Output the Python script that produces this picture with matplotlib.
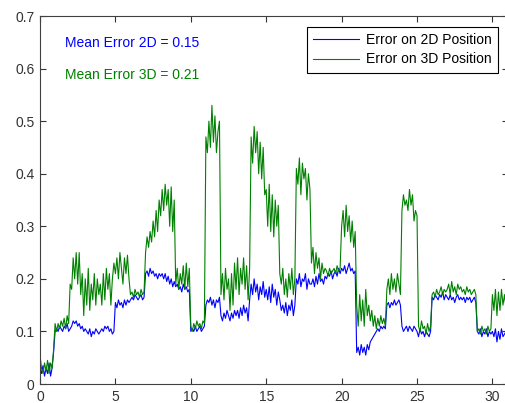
import numpy as np
import matplotlib
matplotlib.use('Agg')
import matplotlib.pyplot as plt

plt.rcParams['font.family'] = ['Liberation Sans', 'DejaVu Sans']

# time axis, one value every 0.1
t = np.arange(310) / 10.0

# error on 2D position (rows = one unit of time)
err2d = [
    0.03, 0.02, 0.035, 0.015, 0.03, 0.02, 0.04, 0.015, 0.03, 0.06,
    0.10, 0.105, 0.10, 0.11, 0.105, 0.10, 0.11, 0.105, 0.115, 0.10,
    0.105, 0.11, 0.12, 0.115, 0.12, 0.11, 0.115, 0.105, 0.11, 0.10,
    0.105, 0.10, 0.095, 0.105, 0.09, 0.10, 0.095, 0.105, 0.10, 0.095,
    0.10, 0.105, 0.10, 0.11, 0.105, 0.11, 0.10, 0.105, 0.095, 0.10,
    0.155, 0.145, 0.16, 0.15, 0.155, 0.145, 0.16, 0.15, 0.16, 0.155,
    0.16, 0.165, 0.16, 0.17, 0.165, 0.16, 0.165, 0.17, 0.16, 0.165,
    0.21, 0.215, 0.205, 0.22, 0.21, 0.215, 0.205, 0.21, 0.20, 0.21,
    0.205, 0.21, 0.20, 0.21, 0.195, 0.205, 0.19, 0.20, 0.185, 0.195,
    0.185, 0.19, 0.18, 0.185, 0.175, 0.19, 0.18, 0.185, 0.175, 0.18,
    0.10, 0.105, 0.10, 0.11, 0.10, 0.105, 0.11, 0.10, 0.105, 0.11,
    0.15, 0.16, 0.155, 0.165, 0.15, 0.16, 0.145, 0.16, 0.155, 0.165,
    0.13, 0.12, 0.135, 0.125, 0.14, 0.13, 0.12, 0.135, 0.125, 0.14,
    0.13, 0.14, 0.125, 0.145, 0.13, 0.15, 0.135, 0.145, 0.12, 0.16,
    0.19, 0.17, 0.20, 0.175, 0.19, 0.16, 0.185, 0.17, 0.195, 0.165,
    0.18, 0.16, 0.185, 0.155, 0.19, 0.165, 0.18, 0.15, 0.175, 0.16,
    0.14, 0.15, 0.135, 0.155, 0.13, 0.15, 0.14, 0.16, 0.13, 0.15,
    0.20, 0.19, 0.21, 0.185, 0.20, 0.195, 0.21, 0.18, 0.20, 0.19,
    0.19, 0.20, 0.185, 0.205, 0.19, 0.21, 0.195, 0.20, 0.19, 0.205,
    0.20, 0.21, 0.205, 0.215, 0.20, 0.21, 0.215, 0.205, 0.22, 0.21,
    0.22, 0.215, 0.225, 0.21, 0.22, 0.23, 0.215, 0.22, 0.21, 0.215,
    0.06, 0.07, 0.055, 0.075, 0.06, 0.07, 0.055, 0.075, 0.065, 0.08,
    0.085, 0.09, 0.095, 0.10, 0.105, 0.10, 0.11, 0.105, 0.11, 0.105,
    0.15, 0.155, 0.145, 0.155, 0.15, 0.16, 0.15, 0.155, 0.16, 0.15,
    0.11, 0.10, 0.105, 0.11, 0.10, 0.11, 0.105, 0.10, 0.11, 0.105,
    0.10, 0.09, 0.105, 0.095, 0.10, 0.09, 0.10, 0.095, 0.09, 0.10,
    0.165, 0.16, 0.17, 0.165, 0.16, 0.17, 0.165, 0.175, 0.16, 0.17,
    0.165, 0.16, 0.17, 0.16, 0.165, 0.155, 0.165, 0.17, 0.16, 0.165,
    0.16, 0.165, 0.155, 0.165, 0.16, 0.165, 0.155, 0.16, 0.165, 0.155,
    0.10, 0.095, 0.105, 0.09, 0.10, 0.095, 0.105, 0.09, 0.10, 0.095,
    0.10, 0.09, 0.105, 0.08, 0.10, 0.085, 0.105, 0.09, 0.095, 0.10,
]

# error on 3D position
err3d = [
    0.055, 0.03, 0.02, 0.04, 0.025, 0.045, 0.02, 0.04, 0.03, 0.065,
    0.115, 0.10, 0.115, 0.105, 0.12, 0.11, 0.125, 0.105, 0.13, 0.115,
    0.19, 0.18, 0.24, 0.20, 0.25, 0.19, 0.25, 0.17, 0.21, 0.13,
    0.20, 0.15, 0.22, 0.14, 0.19, 0.16, 0.21, 0.15, 0.20, 0.17,
    0.19, 0.15, 0.21, 0.16, 0.22, 0.18, 0.21, 0.15, 0.20, 0.23,
    0.21, 0.24, 0.20, 0.25, 0.22, 0.19, 0.24, 0.21, 0.245, 0.20,
    0.17, 0.175, 0.165, 0.18, 0.17, 0.175, 0.165, 0.18, 0.17, 0.175,
    0.25, 0.28, 0.26, 0.29, 0.27, 0.31, 0.28, 0.33, 0.29, 0.35,
    0.32, 0.37, 0.33, 0.38, 0.34, 0.37, 0.30, 0.375, 0.29, 0.35,
    0.19, 0.22, 0.18, 0.21, 0.19, 0.225, 0.18, 0.23, 0.185, 0.22,
    0.11, 0.10, 0.115, 0.105, 0.12, 0.11, 0.115, 0.105, 0.12, 0.115,
    0.47, 0.44, 0.50, 0.45, 0.53, 0.46, 0.51, 0.44, 0.48, 0.50,
    0.17, 0.21, 0.16, 0.22, 0.18, 0.20, 0.14, 0.21, 0.15, 0.23,
    0.18, 0.24, 0.17, 0.22, 0.19, 0.24, 0.18, 0.225, 0.16, 0.22,
    0.47, 0.42, 0.49, 0.44, 0.48, 0.40, 0.46, 0.39, 0.45, 0.36,
    0.37, 0.30, 0.38, 0.29, 0.36, 0.28, 0.35, 0.30, 0.34, 0.21,
    0.19, 0.22, 0.17, 0.20, 0.165, 0.21, 0.18, 0.22, 0.17, 0.20,
    0.41, 0.38, 0.43, 0.36, 0.42, 0.39, 0.41, 0.35, 0.40, 0.37,
    0.23, 0.26, 0.21, 0.25, 0.22, 0.24, 0.20, 0.23, 0.21, 0.22,
    0.215, 0.205, 0.22, 0.21, 0.215, 0.22, 0.21, 0.225, 0.215, 0.22,
    0.30, 0.33, 0.28, 0.34, 0.29, 0.32, 0.27, 0.31, 0.26, 0.29,
    0.15, 0.11, 0.17, 0.12, 0.16, 0.11, 0.18, 0.13, 0.15, 0.12,
    0.14, 0.11, 0.13, 0.105, 0.125, 0.11, 0.13, 0.115, 0.125, 0.11,
    0.18, 0.20, 0.17, 0.21, 0.18, 0.20, 0.175, 0.21, 0.19, 0.17,
    0.33, 0.36, 0.34, 0.35, 0.33, 0.37, 0.34, 0.36, 0.31, 0.33,
    0.32, 0.11, 0.10, 0.12, 0.105, 0.11, 0.095, 0.115, 0.10, 0.11,
    0.17, 0.175, 0.165, 0.18, 0.17, 0.175, 0.185, 0.17, 0.18, 0.175,
    0.18, 0.19, 0.17, 0.195, 0.175, 0.185, 0.17, 0.19, 0.18, 0.185,
    0.175, 0.18, 0.17, 0.185, 0.175, 0.18, 0.17, 0.175, 0.18, 0.17,
    0.10, 0.105, 0.095, 0.11, 0.10, 0.105, 0.095, 0.11, 0.10, 0.105,
    0.17, 0.14, 0.18, 0.13, 0.175, 0.14, 0.18, 0.15, 0.17, 0.145,
]

xticks = [0, 5, 10, 15, 20, 25, 30]
yticks = [0, 0.1, 0.2, 0.3, 0.4, 0.5, 0.6, 0.7]
ylabels = ['0', '0.1', '0.2', '0.3', '0.4', '0.5', '0.6', '0.7']

W, H = 506, 403
fig = plt.figure(figsize=(W / 100, H / 100), dpi=100)
ax = fig.add_axes([40 / W, 19 / H, 467.5 / W, 368 / H])

ax.plot(t, err2d, color='#0000ff', lw=0.8, label='Error on 2D Position')
ax.plot(t, err3d, color='#008000', lw=0.8, label='Error on 3D Position')

ax.set_xlim(0, 31)
ax.set_ylim(0, 0.7)
ax.set_xticks(xticks)
ax.set_yticks(yticks)
ax.set_yticklabels(ylabels)
ax.tick_params(direction='in', length=4, width=0.8, top=True, right=True,
               labelsize=10, colors='#333333', pad=4)
for s in ax.spines.values():
    s.set_color('#404040')
    s.set_linewidth(0.8)

ax.text(1.66, 0.648, 'Mean Error 2D = 0.15', color='#0000ff', fontsize=10,
        va='center', ha='left')
ax.text(1.66, 0.587, 'Mean Error 3D = 0.21', color='#008000', fontsize=10,
        va='center', ha='left')

leg = ax.legend(loc='upper right', bbox_to_anchor=(498 / W, (H - 27) / H),
                bbox_transform=fig.transFigure, borderaxespad=0,
                fancybox=False, framealpha=1, edgecolor='black', fontsize=10,
                handlelength=3.3, handletextpad=0.5, labelspacing=0.37,
                borderpad=0.45)
leg.get_frame().set_linewidth(0.8)

fig.savefig('out.png', dpi=100)
